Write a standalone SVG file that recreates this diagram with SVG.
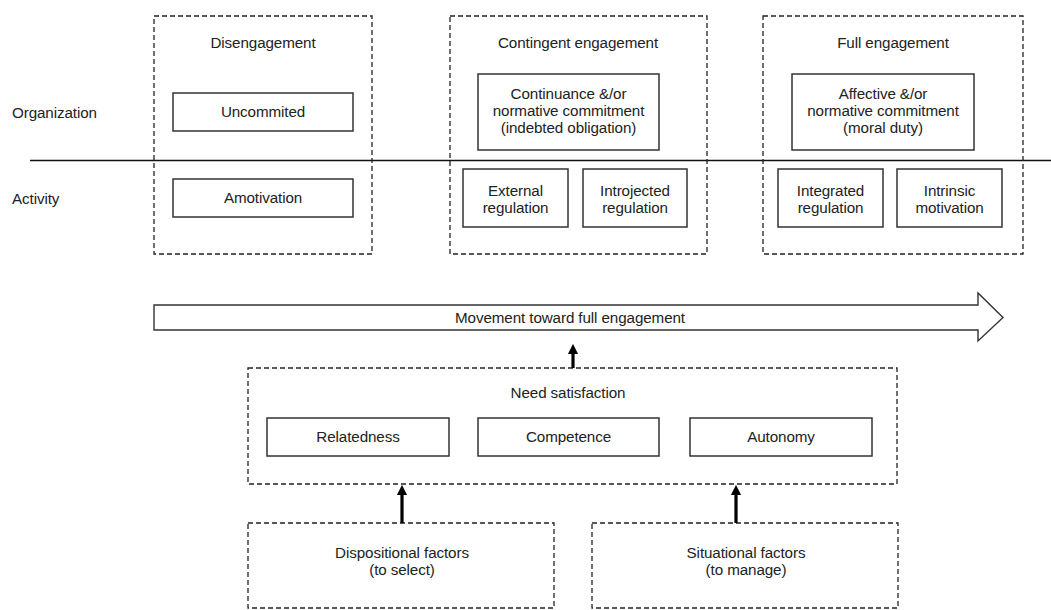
<svg xmlns="http://www.w3.org/2000/svg" width="1051" height="610" viewBox="0 0 1051 610">
<style>
text{font-family:"Liberation Sans",Arial,sans-serif;font-size:15.2px;fill:#222;text-anchor:middle;letter-spacing:-0.1px}
.lbl{text-anchor:start}
.dash{fill:none;stroke:#222;stroke-width:1.3;stroke-dasharray:5 3}
.box{fill:#fff;stroke:#333;stroke-width:1.5}
.conn{stroke:#000;stroke-width:3.2;fill:none}
</style>
<defs>
<marker id="ah" viewBox="0 0 10 10" refX="5" refY="5" markerWidth="3.2" markerHeight="3.6" orient="auto">
<path d="M0,0 L10,5 L0,10 z" fill="#000"/>
</marker>
</defs>
<rect width="1051" height="610" fill="#fff"/>
<g id="axis">
<line x1="30" y1="160.5" x2="1051" y2="160.5" stroke="#111" stroke-width="1.3"/>
<text class="lbl" x="12" y="118">Organization</text>
<text class="lbl" x="12" y="204">Activity</text>
</g>
<g id="disengagement">
<rect class="dash" x="154" y="16" width="218" height="238"/>
<text x="263" y="48">Disengagement</text>
</g>
<g id="uncommited">
<rect class="box" x="173" y="93" width="180" height="38"/>
<text x="263" y="117">Uncommited</text>
</g>
<g id="amotivation">
<rect class="box" x="173" y="179" width="180" height="38"/>
<text x="263" y="203">Amotivation</text>
</g>
<g id="contingent">
<rect class="dash" x="450" y="16" width="257" height="238"/>
<text x="578" y="48">Contingent engagement</text>
</g>
<g id="continuance">
<rect class="box" x="478" y="74" width="181" height="76"/>
<text x="568.5" y="99">Continuance &amp;/or</text>
<text x="568.5" y="116">normative commitment</text>
<text x="568.5" y="133">(indebted obligation)</text>
</g>
<g id="external">
<rect class="box" x="463" y="169" width="105" height="58"/>
<text x="515.5" y="196">External</text>
<text x="515.5" y="213">regulation</text>
</g>
<g id="introjected">
<rect class="box" x="583" y="169" width="104" height="58"/>
<text x="635" y="196">Introjected</text>
<text x="635" y="213">regulation</text>
</g>
<g id="full">
<rect class="dash" x="763" y="16" width="260" height="238"/>
<text x="893" y="48">Full engagement</text>
</g>
<g id="affective">
<rect class="box" x="792" y="74" width="182" height="76"/>
<text x="883" y="99">Affective  &amp;/or</text>
<text x="883" y="116">normative commitment</text>
<text x="883" y="133">(moral duty)</text>
</g>
<g id="integrated">
<rect class="box" x="778" y="169" width="105" height="58"/>
<text x="830.5" y="196">Integrated</text>
<text x="830.5" y="213">regulation</text>
</g>
<g id="intrinsic">
<rect class="box" x="897" y="169" width="105" height="58"/>
<text x="949.5" y="196">Intrinsic</text>
<text x="949.5" y="213">motivation</text>
</g>
<g id="movement">
<polygon points="154,305 978,305 978,293 1003,317.5 978,341 978,330 154,330" fill="#fff" stroke="#333" stroke-width="1.4"/>
<text x="570" y="323">Movement toward full engagement</text>
</g>
<g id="need">
<rect class="dash" x="248" y="368" width="649" height="116"/>
<text x="568" y="398">Need satisfaction</text>
</g>
<g id="relatedness">
<rect class="box" x="267" y="418" width="182" height="38"/>
<text x="358" y="442">Relatedness</text>
</g>
<g id="competence">
<rect class="box" x="478" y="418" width="181" height="38"/>
<text x="568.5" y="442">Competence</text>
</g>
<g id="autonomy">
<rect class="box" x="690" y="418" width="182" height="38"/>
<text x="781" y="442">Autonomy</text>
</g>
<g id="dispositional">
<rect class="dash" x="248" y="523" width="306" height="85"/>
<text x="402" y="558">Dispositional factors</text>
<text x="402" y="575">(to select)</text>
</g>
<g id="situational">
<rect class="dash" x="592" y="523" width="306" height="85"/>
<text x="746" y="558">Situational factors</text>
<text x="746" y="575">(to manage)</text>
</g>
<g id="connectors">
<line class="conn" x1="573" y1="368" x2="573" y2="349" marker-end="url(#ah)"/>
<line class="conn" x1="402" y1="523" x2="402" y2="490" marker-end="url(#ah)"/>
<line class="conn" x1="736" y1="523" x2="736" y2="490" marker-end="url(#ah)"/>
</g>
</svg>
